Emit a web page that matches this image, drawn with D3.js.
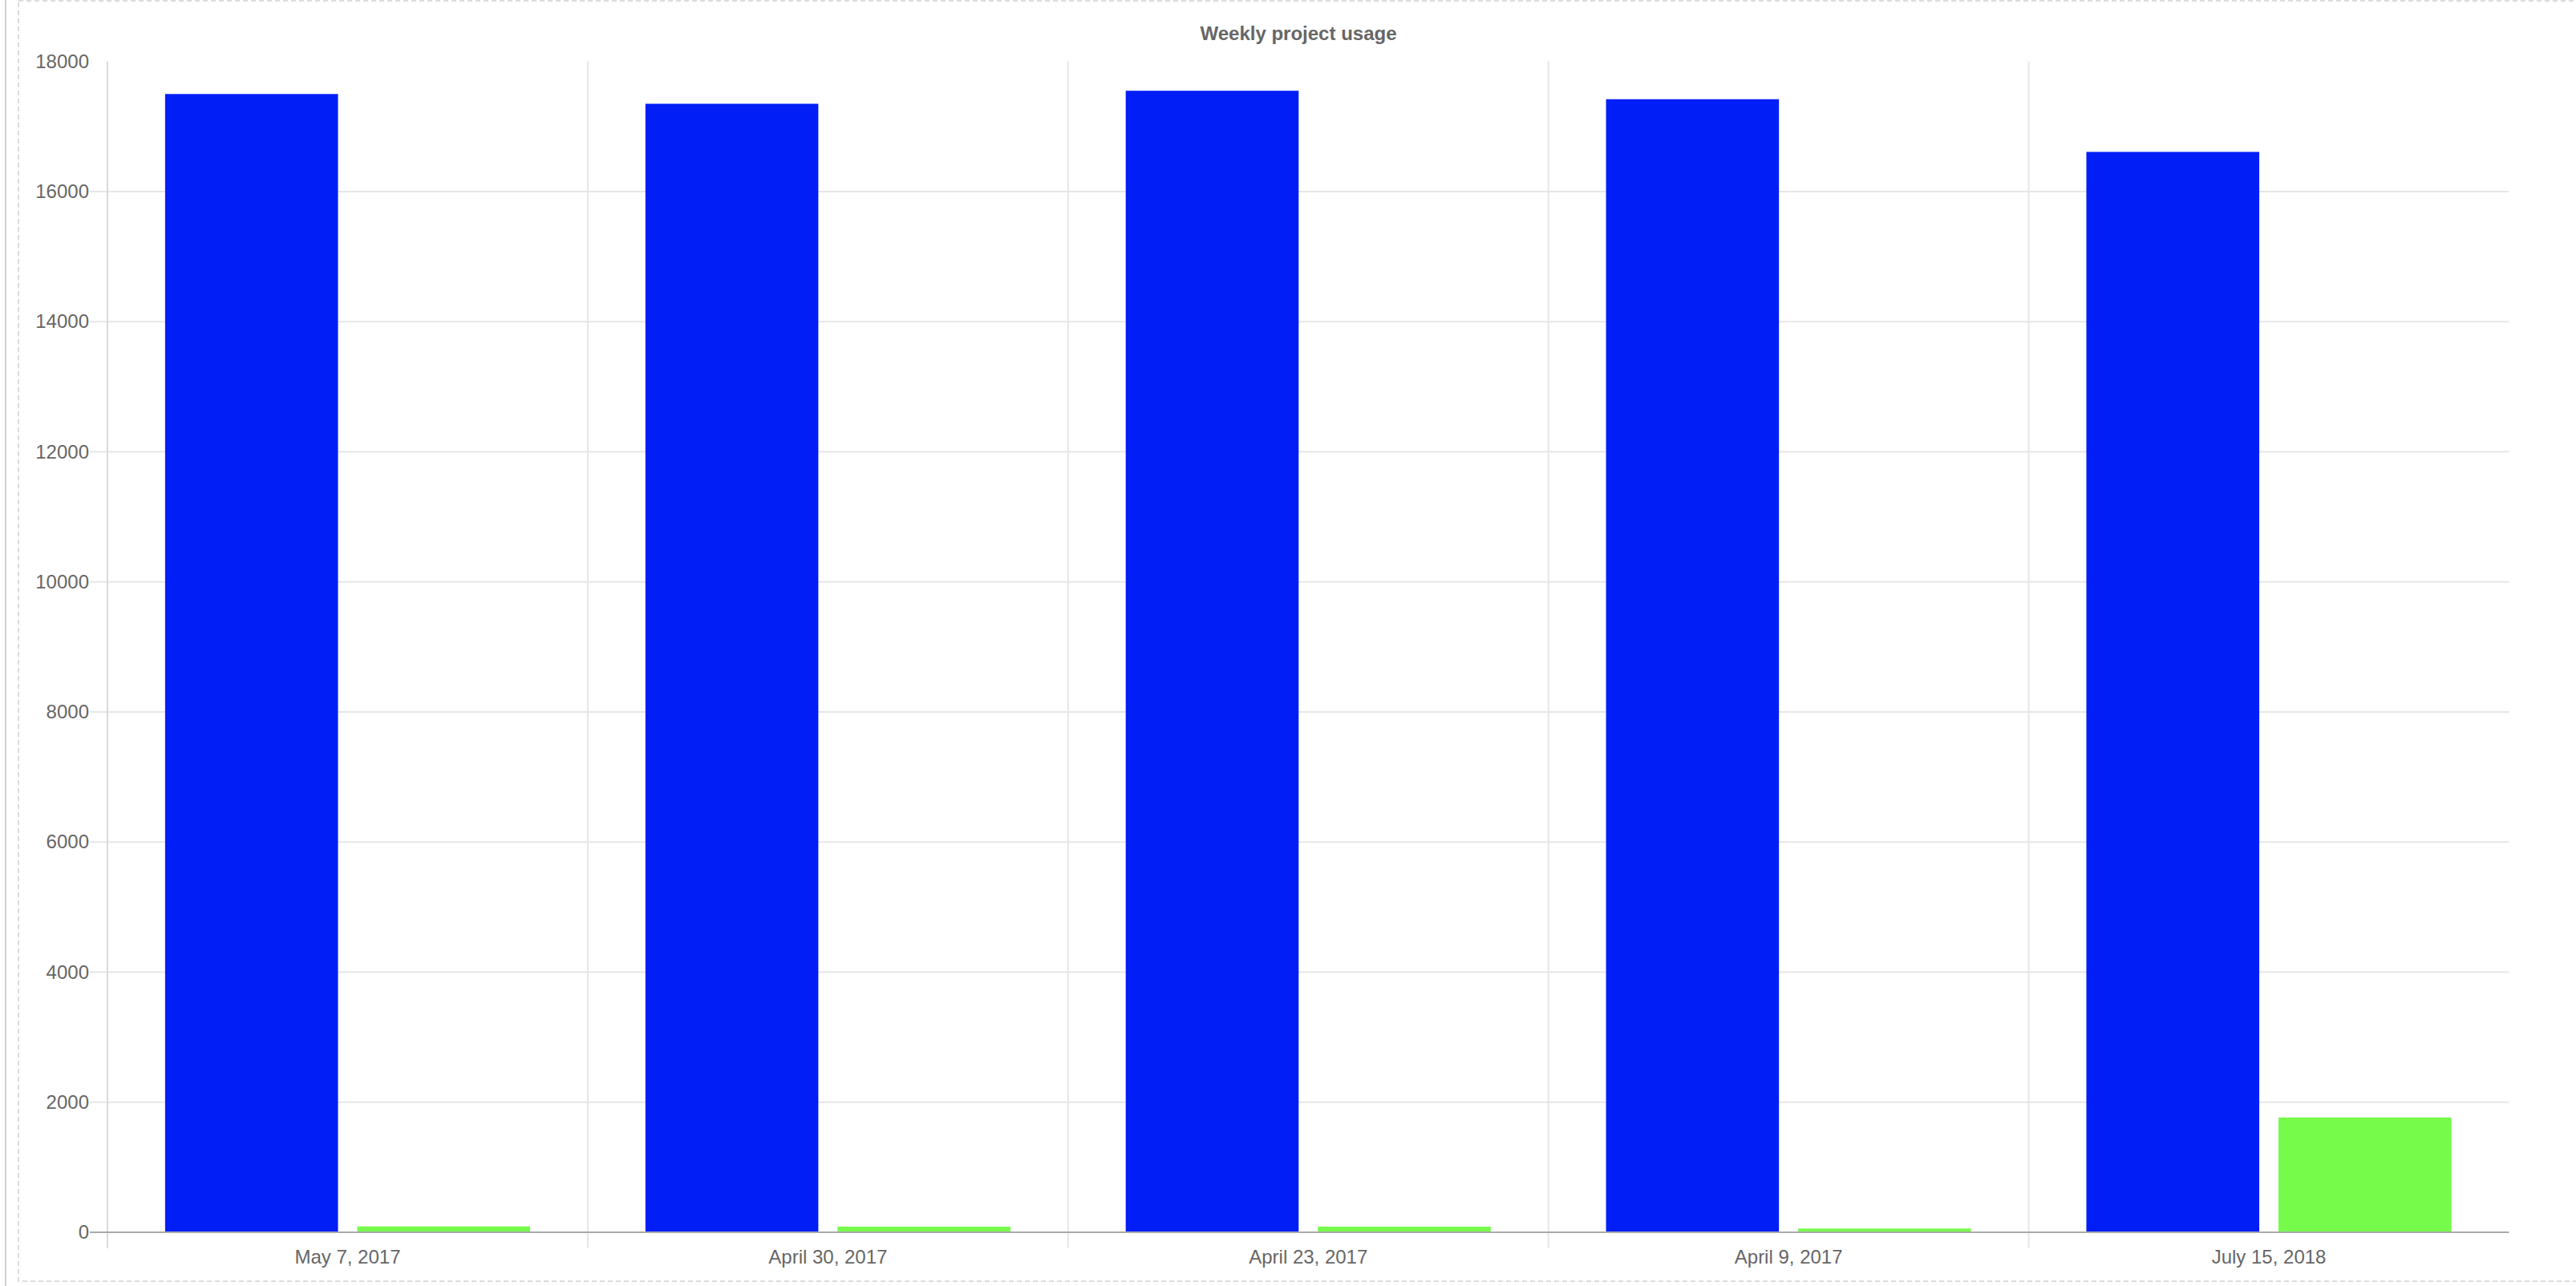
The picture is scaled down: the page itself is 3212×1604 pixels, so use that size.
<!DOCTYPE html>
<html>
<head>
<meta charset="utf-8">
<script src="https://cdn.jsdelivr.net/npm/d3@7"></script>
<style>
    body { margin: 0; background: #fff; }
    svg { display: block; }
    text { font-family: "Liberation Sans", Arial, Helvetica, sans-serif; }
</style>
</head>
<body>
<div id="chart"></div>
<script>
// data
const categories = ["May 7, 2017", "April 30, 2017", "April 23, 2017", "April 9, 2017", "July 15, 2018"];
const seriesNames = ["usage", "other"];
const usageValues = [17500, 17350, 17550, 17420, 16610];
const otherValues = [90, 86, 86, 58, 1765];
const yTicks = [0, 2000, 4000, 6000, 8000, 10000, 12000, 14000, 16000, 18000];
const titleText = "Weekly project usage";

const colors = { usage: "#021ef7", other: "#76fb4b" };

const width = 3212, height = 1604;
const plot = { left: 134, right: 3128.5, top: 76.7, bottom: 1537 };

const svg = d3.select("#chart").append("svg")
    .attr("width", width)
    .attr("height", height);

// page frame: solid line on the left + dashed box
svg.append("line")
    .attr("x1", 7).attr("x2", 7)
    .attr("y1", 0).attr("y2", height)
    .attr("stroke", "#cfcfcf")
    .attr("stroke-width", 2);

svg.append("rect")
    .attr("x", 23).attr("y", 1)
    .attr("width", width + 20)
    .attr("height", 1597)
    .attr("fill", "none")
    .attr("stroke", "#dcdcdc")
    .attr("stroke-width", 2)
    .attr("stroke-dasharray", "6,4");

const x = d3.scaleBand()
    .domain(categories)
    .range([plot.left, plot.right])
    .padding(0);

// Chart.js style: 80% of category, 90% of each bar slot
const xInner = d3.scaleBand()
    .domain(seriesNames)
    .range([x.bandwidth() * 0.1, x.bandwidth() * 0.9])
    .paddingInner(0.1)
    .paddingOuter(0.05);

const y = d3.scaleLinear()
    .domain([0, d3.max(yTicks)])
    .range([plot.bottom, plot.top]);

// horizontal grid (no line at top tick)
svg.append("g")
    .selectAll("line")
    .data(yTicks.filter(t => t > 0 && t < d3.max(yTicks)))
    .join("line")
    .attr("x1", plot.left - 22)
    .attr("x2", plot.right)
    .attr("y1", d => y(d))
    .attr("y2", d => y(d))
    .attr("stroke", "#e6e6e6")
    .attr("stroke-width", 2);

// vertical grid at category boundaries
svg.append("g")
    .selectAll("line")
    .data(categories)
    .join("line")
    .attr("x1", d => x(d))
    .attr("x2", d => x(d))
    .attr("y1", plot.top)
    .attr("y2", plot.bottom + 20)
    .attr("stroke", (d, i) => i === 0 ? "#dadada" : "#e6e6e6")
    .attr("stroke-width", 2);

// bars
const rows = categories.map((c, i) => ({ cat: c, usage: usageValues[i], other: otherValues[i] }));

const groups = svg.append("g")
    .selectAll("g")
    .data(rows)
    .join("g")
    .attr("transform", d => `translate(${x(d.cat)},0)`);

groups.selectAll("rect")
    .data(d => seriesNames.map(k => ({ key: k, value: d[k] })))
    .join("rect")
    .attr("x", d => xInner(d.key))
    .attr("width", xInner.bandwidth())
    .attr("y", d => y(d.value))
    .attr("height", d => y(0) - y(d.value))
    .attr("fill", d => colors[d.key]);

// zero line
svg.append("line")
    .attr("x1", plot.left - 22)
    .attr("x2", plot.right)
    .attr("y1", y(0))
    .attr("y2", y(0))
    .attr("stroke", "#a9a9a9")
    .attr("stroke-width", 2);

// y axis labels
const yAxis = svg.append("g")
    .attr("transform", `translate(${plot.left},0)`)
    .call(d3.axisLeft(y).tickValues(yTicks).tickFormat(d3.format("d")).tickSize(0).tickPadding(23));
yAxis.select(".domain").remove();
yAxis.selectAll("text")
    .attr("font-size", 24)
    .attr("fill", "#666")
    .style("font-family", "'Liberation Sans', Arial, sans-serif");

// x axis labels
const xAxis = svg.append("g")
    .attr("transform", `translate(0,${plot.bottom})`)
    .call(d3.axisBottom(x).tickSize(0).tickPadding(22));
xAxis.select(".domain").remove();
xAxis.selectAll("text")
    .attr("font-size", 24)
    .attr("fill", "#666")
    .style("font-family", "'Liberation Sans', Arial, sans-serif");

// title
svg.append("text")
    .attr("x", 1619)
    .attr("y", 50)
    .attr("text-anchor", "middle")
    .attr("font-size", 24)
    .attr("font-weight", "bold")
    .attr("fill", "#666")
    .text(titleText);
</script>
</body>
</html>
